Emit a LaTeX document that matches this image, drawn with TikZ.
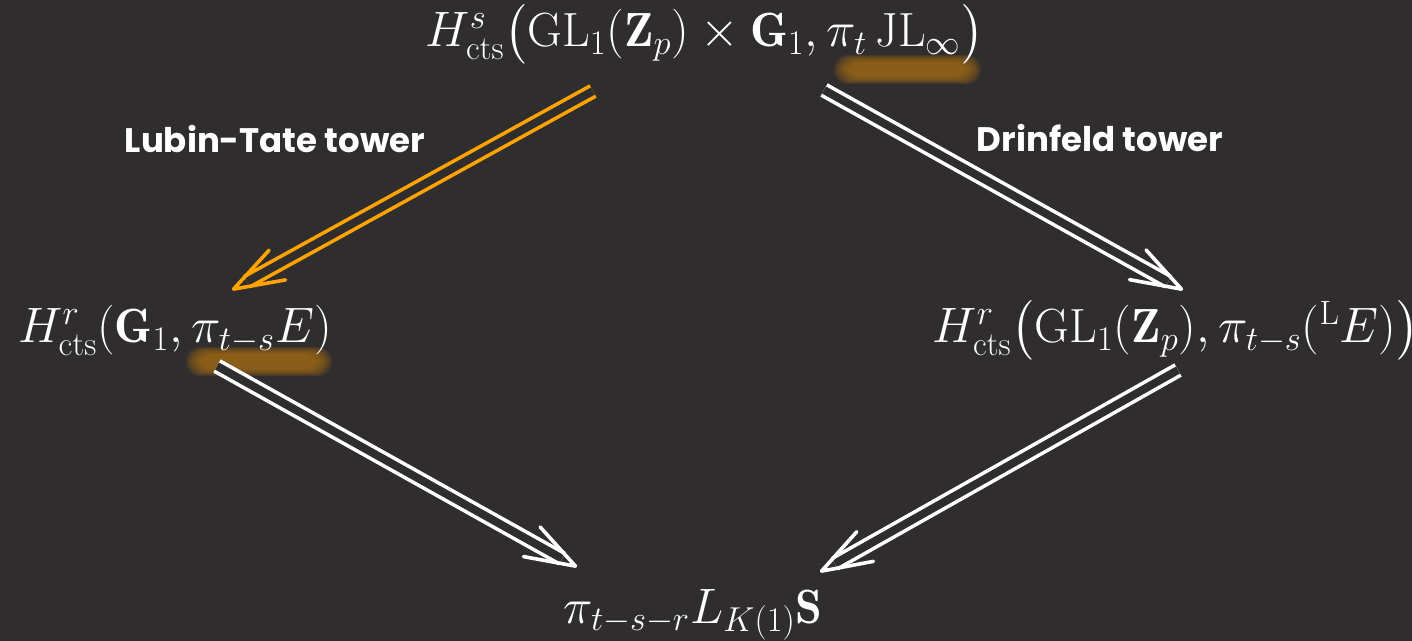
\documentclass[tikz,border=0pt]{standalone}
\usepackage{amsmath}
\usepackage{fontspec}
\newfontfamily\towerfont{Poppins}
\usetikzlibrary{arrows.meta,calc}

\definecolor{slate}{HTML}{2F2D2E}
\definecolor{tower}{HTML}{FFA300}
\definecolor{glow}{HTML}{A86E14}

\tikzset{
  obj/.style={text=white, font=\fontsize{24}{28}\selectfont, inner sep=0pt, anchor=base},
  lbl/.style={text=white, font=\towerfont\bfseries\fontsize{17}{20}\selectfont, anchor=base},
  % the two strokes of a map, and its open head
  dbl/.style={draw=white, line width=1.8pt, double=slate, double distance=4pt, shorten >=8.5pt},
  head/.style={draw=white, line width=1.8pt, dash pattern=on 0pt off 2000pt,
    -{Straight Barb[length=25pt, width=17pt, round]}},
}

\begin{document}
\begin{tikzpicture}[x=0.5pt, y=-0.5pt]
    % background and page size
    \fill[slate] (0,0) rectangle (1412,641);
    \useasboundingbox (0,0) rectangle (1412,641);

    % soft highlights under the coefficients
    \foreach \i in {0,...,7}{
        \fill[glow, opacity=0.17, rounded corners=7]
            (834+2*\i, 55+\i) rectangle (981-2*\i, 84-\i);
        \fill[glow, opacity=0.17, rounded corners=7]
            (186+2*\i, 347+\i) rectangle (332-2*\i, 376-\i);
    }

    % the four groups
    \node[obj] (top) at (705,47)
        {$H^s_{\mathrm{cts}}\bigl(\mathrm{GL}_1(\mathbf{Z}_p)\times\mathbf{G}_1,\pi_t\,\mathrm{JL}_\infty\bigr)$};
    \node[obj] (lt) at (175,343)
        {$H^r_{\mathrm{cts}}(\mathbf{G}_1,\pi_{t-s}E)$};
    \node[obj] (rt) at (1176,343)
        {$H^r_{\mathrm{cts}}\bigl(\mathrm{GL}_1(\mathbf{Z}_p),\pi_{t-s}({}^{\mathrm{L}}E)\bigr)$};
    \node[obj] (bt) at (693,623)
        {$\pi_{t-s-r}L_{K(1)}\mathbf{S}$};

    % tower labels
    \node[lbl] (lubin) at (275,153) {Lubin-Tate tower};
    \node[lbl] (drin) at (1100,152) {Drinfeld tower};

    % ends of the maps, just off each group
    \coordinate (top-l) at ($(top.base)+(-112,44)$);
    \coordinate (top-r) at ($(top.base)+(119,43)$);
    \coordinate (lt-in) at ($(lt.base)+(57,-53)$);
    \coordinate (rt-in) at ($(rt.base)+(7,-53)$);
    \coordinate (lt-out) at ($(lt.base)+(42,23)$);
    \coordinate (rt-out) at ($(rt.base)+(2,27)$);
    \coordinate (bt-l) at ($(bt.base)+(-116,-56)$);
    \coordinate (bt-r) at ($(bt.base)+(127,-51)$);

    % spectral sequence maps
    \draw[dbl, draw=tower] (top-l) -- (lt-in);
    \draw[head, draw=tower] (top-l) -- (lt-in);
    \foreach \a/\b in {top-r/rt-in, lt-out/bt-l, rt-out/bt-r}{
        \draw[dbl] (\a) -- (\b);
        \draw[head] (\a) -- (\b);
    }
\end{tikzpicture}
\end{document}
